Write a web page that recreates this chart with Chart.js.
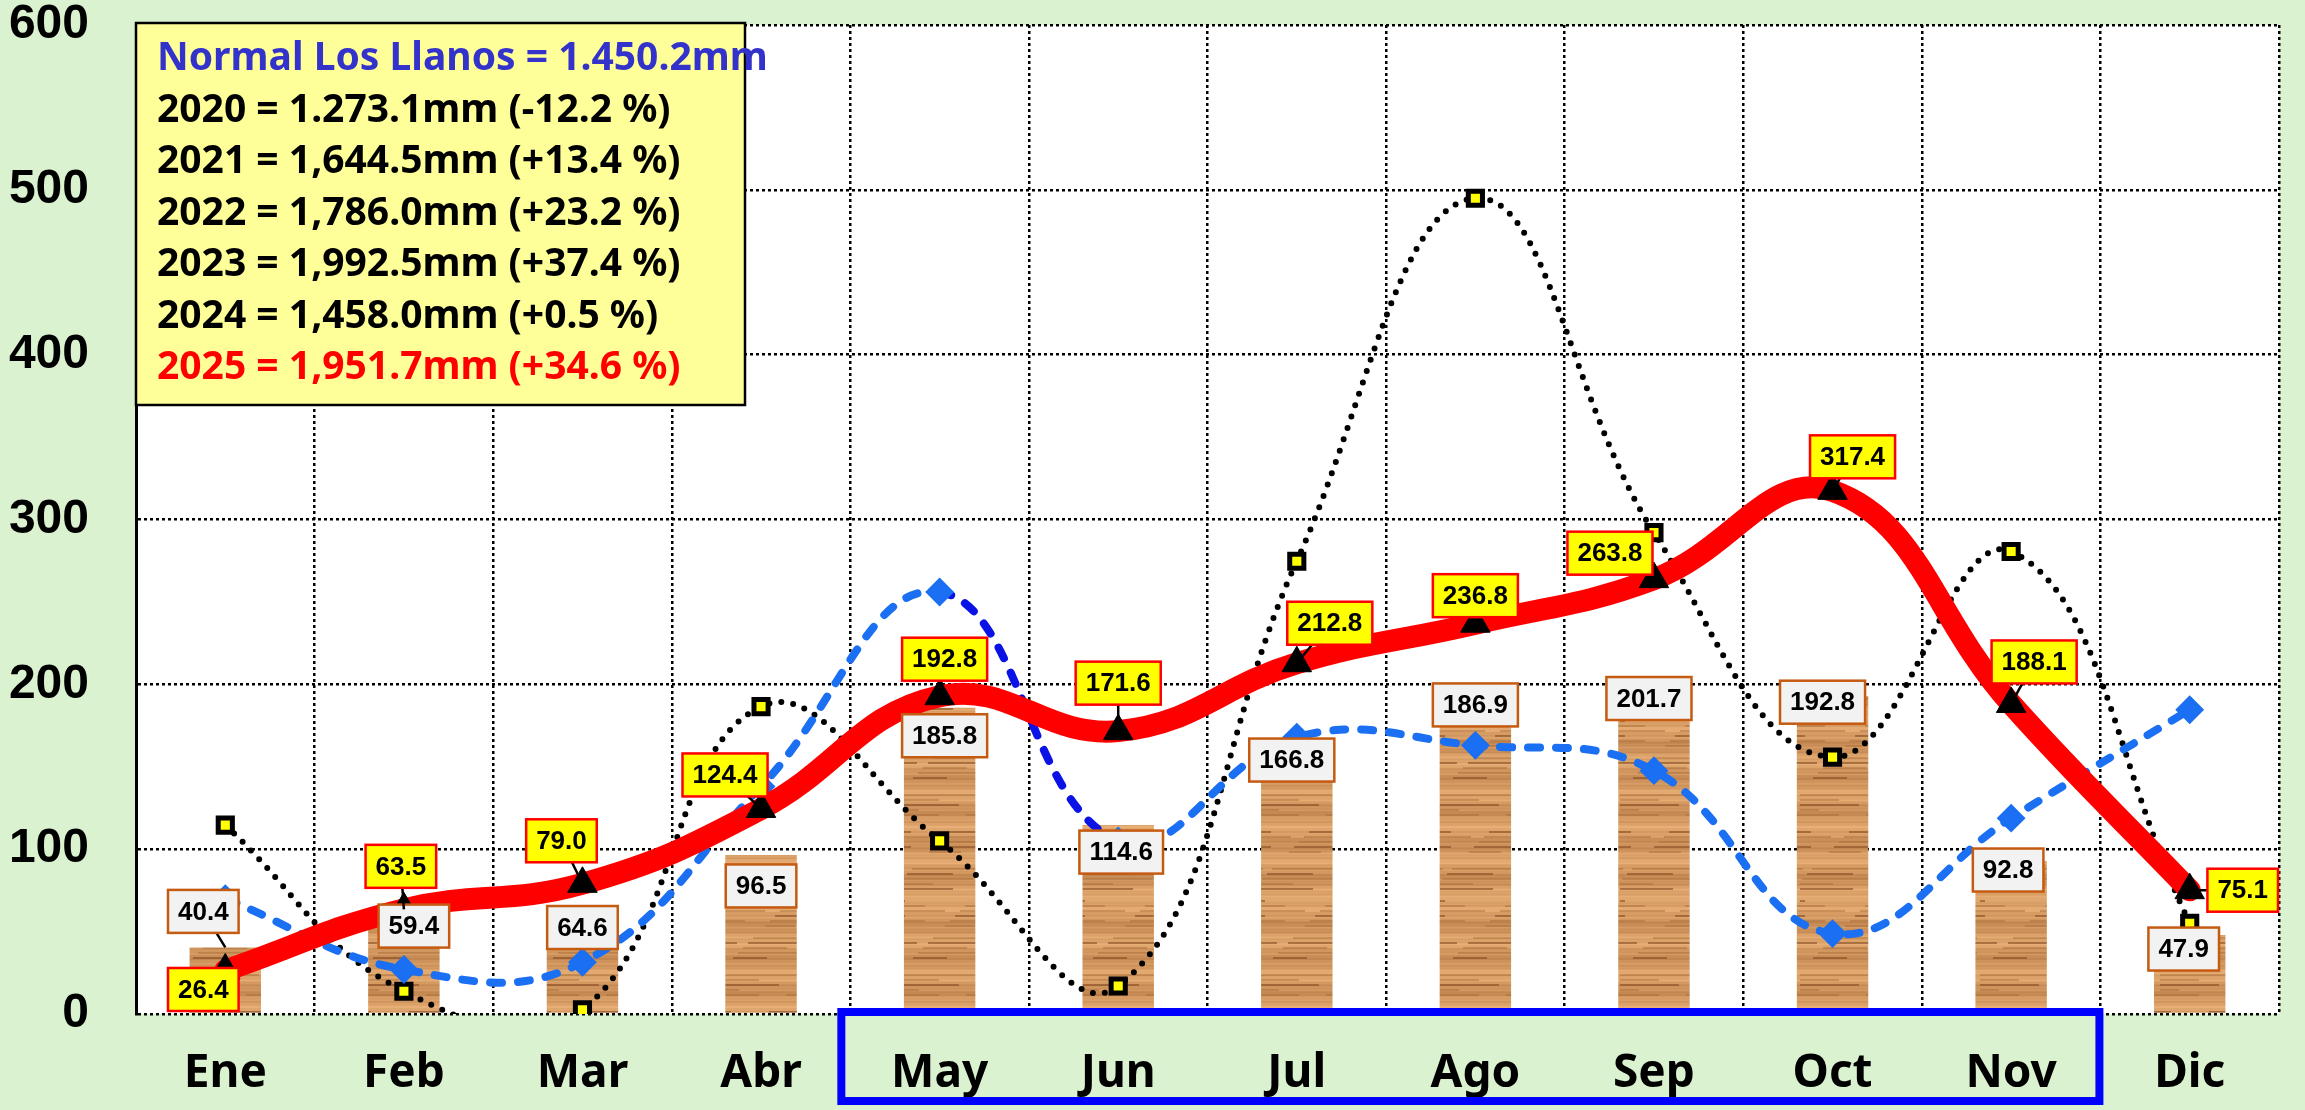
<!DOCTYPE html>
<html>
<head>
<meta charset="utf-8">
<title>Precipitación Los Llanos</title>
<script src="https://cdn.jsdelivr.net/npm/chart.js@4.4.1/dist/chart.umd.min.js"></script>
<style>
  html, body { margin: 0; padding: 0; background: #daf2d0; }
  #wrap { width: 2305px; height: 1110px; }
</style>
</head>
<body>
<div id="wrap"><canvas id="lluvia" width="2305" height="1110"></canvas></div>
<script>
// datos
const meses = ['Ene', 'Feb', 'Mar', 'Abr', 'May', 'Jun', 'Jul', 'Ago', 'Sep', 'Oct', 'Nov', 'Dic']
const normal = [40.4, 59.4, 64.6, 96.5, 185.8, 114.6, 166.8, 186.9, 201.7, 192.8, 92.8, 47.9]
const lluvia2023 = [114.6, 13.8, 2.6, 186.5, 105, 17, 274.7, 494.9, 292, 155.8, 280.6, 55]
const lluvia2024 = [70, 27, 31.4, 138, 256, 105, 168, 163, 147.6, 48.8, 118.8, 184.6]
const lluvia2025 = [26.4, 63.5, 79.0, 124.4, 192.8, 171.6, 212.8, 236.8, 263.8, 317.4, 188.1, 75.1]
const yTicks = [0, 100, 200, 300, 400, 500, 600]
const resumenTextos = [
    'Normal Los Llanos = 1.450.2mm',
    '2020 = 1.273.1mm (-12.2 %)',
    '2021 = 1,644.5mm (+13.4 %)',
    '2022 = 1,786.0mm (+23.2 %)',
    '2023 = 1,992.5mm (+37.4 %)',
    '2024 = 1,458.0mm (+0.5 %)',
    '2025 = 1,951.7mm (+34.6 %)'
]
const resumenColores = ['#3333cc', '#000', '#000', '#000', '#000', '#000', '#ff0000']

// desplazamiento de etiquetas (px) respecto al punto
const offNormal = [[-22, -36], [10, 10], [0, 20], [0, 31], [5, 28], [3, 27], [-5, 21], [0, -1], [-5, 17], [-10, 6], [-3, 9], [-6, 14]]
const off2025 = [[-22, 19], [-3, -43], [-21, -43], [-36, -34], [5, -37], [0, -48], [33, -40], [0, -28], [-44, -26], [20, -34], [23, -42], [53, 0]]

const fuente = '"Liberation Sans", Arial, sans-serif'
const fuenteEje = '"Noto Sans", "Liberation Sans", sans-serif'

// textura de madera para las barras
function madera() {
    const c = document.createElement('canvas')
    c.width = 90
    c.height = 180
    const g = c.getContext('2d')
    for (let y = 0; y < 180; y++) {
        const t = 0.5 * Math.sin(y * 0.19) + 0.3 * Math.sin(y * 0.71 + 1.3) + 0.2 * Math.sin(y * 1.9 + 0.4)
        const r = Math.round(212 + 22 * t)
        const gg = Math.round(154 + 24 * t)
        const b = Math.round(98 + 22 * t)
        g.fillStyle = `rgb(${r},${gg},${b})`
        g.fillRect(0, y, 90, 1)
    }
    for (let k = 0; k < 26; k++) {
        const y = (k * 37) % 180
        const x0 = (k * 53) % 90
        const w = 25 + (k * 29) % 60
        g.fillStyle = k % 3 === 0 ? 'rgba(125,70,30,0.55)' : 'rgba(160,100,50,0.4)'
        g.fillRect(x0 - 20, y, w, 2)
        g.fillRect(x0 - 110, y, w, 2)
    }
    return document.getElementById('lluvia').getContext('2d').createPattern(c, 'repeat')
}

const fondo = {
    id: 'fondo',
    beforeDraw(chart) {
        const { ctx, chartArea: a } = chart
        ctx.save()
        ctx.fillStyle = '#daf2d0'
        ctx.fillRect(0, 0, chart.width, chart.height)
        ctx.fillStyle = '#ffffff'
        ctx.fillRect(a.left, a.top, a.right - a.left, a.bottom - a.top)
        ctx.restore()
    }
}

function cajaEtiqueta(ctx, px, py, off, texto, relleno, borde) {
    ctx.font = 'bold 26px ' + fuente
    const w = ctx.measureText(texto).width + 20
    const h = 43
    const cx = px + off[0]
    const cy = py + off[1]
    const gx = Math.max(0, Math.abs(off[0]) - w / 2)
    const gy = Math.max(0, Math.abs(off[1]) - h / 2)
    if (Math.max(gx, gy) > 12) {
        ctx.strokeStyle = '#000'
        ctx.lineWidth = 2.5
        ctx.beginPath()
        ctx.moveTo(cx, cy)
        ctx.lineTo(px, py)
        ctx.stroke()
    }
    ctx.fillStyle = relleno
    ctx.fillRect(cx - w / 2, cy - h / 2, w, h)
    ctx.strokeStyle = borde
    ctx.lineWidth = 2.5
    ctx.strokeRect(cx - w / 2, cy - h / 2, w, h)
    ctx.fillStyle = '#000'
    ctx.textAlign = 'center'
    ctx.textBaseline = 'middle'
    ctx.fillText(texto, cx, cy + 1)
}

const etiquetas = {
    id: 'etiquetas',
    afterDatasetsDraw(chart) {
        const ctx = chart.ctx
        ctx.save()
        chart.getDatasetMeta(0).data.forEach((el, i) => {
            cajaEtiqueta(ctx, el.x, el.y, offNormal[i], normal[i].toFixed(1), '#f2f2f2', '#c55a11')
        })
        chart.getDatasetMeta(3).data.forEach((el, i) => {
            cajaEtiqueta(ctx, el.x, el.y, off2025[i], lluvia2025[i].toFixed(1), '#ffff00', '#ff0000')
        })
        ctx.restore()
    }
}

const resumen = {
    id: 'resumen',
    afterDraw(chart) {
        const { ctx, chartArea: a, scales } = chart
        ctx.save()
        ctx.fillStyle = '#ffff99'
        ctx.fillRect(a.left, 23, 609, 382)
        ctx.strokeStyle = '#000'
        ctx.lineWidth = 2.5
        ctx.strokeRect(a.left, 23, 609, 382)
        ctx.textAlign = 'left'
        ctx.textBaseline = 'middle'
        resumenTextos.forEach((t, i) => {
            ctx.font = 'bold 39px ' + fuenteEje
            ctx.fillStyle = resumenColores[i]
            ctx.fillText(t, a.left + 21, 59 + i * 51.5)
        })

        // recuadro azul bajo May-Nov
        const x = scales.x
        const ancho = x.getPixelForValue(1) - x.getPixelForValue(0)
        const izq = x.getPixelForValue(4) - ancho / 2 - 9
        const der = x.getPixelForValue(10) + ancho / 2 - 1
        ctx.strokeStyle = '#0000ff'
        ctx.lineWidth = 8
        ctx.strokeRect(izq, a.bottom - 2, der - izq, 89)
        ctx.restore()
    }
}

const ctx = document.getElementById('lluvia')

new Chart(ctx, {
    type: 'bar',
    data: {
        labels: meses,
        datasets: [
            {
                type: 'bar',
                label: 'Normal',
                data: normal,
                backgroundColor: madera(),
                barPercentage: 0.4,
                categoryPercentage: 1,
                order: 4
            },
            {
                type: 'line',
                label: '2023',
                data: lluvia2023,
                borderColor: '#000',
                borderWidth: 6,
                borderDash: [0, 12],
                borderCapStyle: 'round',
                tension: 0.42,
                pointStyle: 'rect',
                pointRadius: 10,
                pointBorderWidth: 5,
                pointBorderColor: '#000',
                pointBackgroundColor: '#ffff00',
                order: 3
            },
            {
                type: 'line',
                label: '2024',
                data: lluvia2024,
                borderColor: '#1a6ff2',
                borderWidth: 8,
                borderDash: [12, 16],
                borderCapStyle: 'round',
                tension: 0.42,
                segment: {
                    borderColor: c => c.p0DataIndex === 4 ? '#0a12e6' : undefined
                },
                pointStyle: 'rectRot',
                pointRadius: 13,
                pointBorderWidth: 2,
                pointBorderColor: '#1a6ff2',
                pointBackgroundColor: '#1a6ff2',
                order: 2
            },
            {
                type: 'line',
                label: '2025',
                data: lluvia2025,
                borderColor: '#ff0000',
                borderWidth: 22,
                borderCapStyle: 'round',
                borderJoinStyle: 'round',
                tension: 0.42,
                pointStyle: 'triangle',
                pointRadius: 17,
                pointBorderWidth: 1,
                pointBorderColor: '#000',
                pointBackgroundColor: '#000',
                order: 1
            }
        ]
    },
    options: {
        responsive: false,
        animation: false,
        events: [],
        layout: { padding: 0 },
        elements: { line: { capBezierPoints: false } },
        plugins: {
            legend: { display: false },
            tooltip: { enabled: false }
        },
        scales: {
            x: {
                grid: { color: '#000', lineWidth: 2.5, drawTicks: false },
                border: { display: false, dash: [3, 3] },
                ticks: {
                    color: '#000',
                    padding: 32,
                    font: { family: fuenteEje, size: 46, weight: 'bold', lineHeight: 1.2 }
                },
                afterFit: s => {
                    s.height = 96
                    s.paddingLeft = 0
                    s.paddingRight = 26
                }
            },
            y: {
                min: 0,
                max: 600,
                afterBuildTicks: s => { s.ticks = yTicks.map(v => ({ value: v })) },
                grid: { color: '#000', lineWidth: 2.5, drawTicks: false },
                border: { display: true, color: '#000', width: 3, dash: [3, 3] },
                ticks: {
                    color: '#000',
                    padding: 47,
                    font: { family: fuente, size: 48, weight: 'bold', lineHeight: 1 }
                },
                afterFit: s => {
                    s.width = 136
                    s.paddingTop = 25
                    s.paddingBottom = 0
                }
            }
        }
    },
    plugins: [fondo, etiquetas, resumen]
})
</script>
</body>
</html>
